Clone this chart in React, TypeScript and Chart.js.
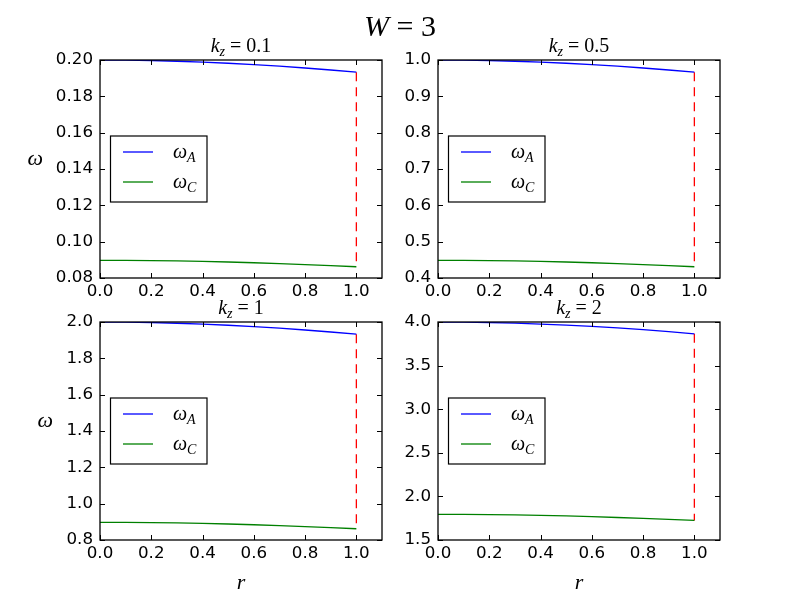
import { useEffect, useRef } from 'react';
import { Chart, registerables } from 'chart.js';

Chart.register(...registerables);

// radial coordinate
const rValues = [0, 0.1, 0.2, 0.3, 0.4, 0.5, 0.6, 0.7, 0.8, 0.9, 1.0];
const xTicks = [0, 0.2, 0.4, 0.6, 0.8, 1.0];

// k_z = 0.1
const omegaA_k01 = [0.2, 0.1999, 0.1997, 0.1993, 0.1988, 0.1982, 0.1975, 0.1966, 0.1956, 0.1945, 0.1933];
const omegaC_k01 = [0.0897, 0.0897, 0.0896, 0.0894, 0.0891, 0.0888, 0.0884, 0.0879, 0.0874, 0.0868, 0.0862];
const yTicks_k01 = [0.08, 0.1, 0.12, 0.14, 0.16, 0.18, 0.2];

// k_z = 0.5
const omegaA_k05 = [1.0, 0.9995, 0.9985, 0.9965, 0.994, 0.991, 0.9875, 0.983, 0.978, 0.9725, 0.9665];
const omegaC_k05 = [0.4485, 0.4485, 0.448, 0.447, 0.4455, 0.444, 0.442, 0.4395, 0.437, 0.434, 0.431];
const yTicks_k05 = [0.4, 0.5, 0.6, 0.7, 0.8, 0.9, 1.0];

// k_z = 1
const omegaA_k1 = [2.0, 1.999, 1.997, 1.993, 1.988, 1.982, 1.975, 1.966, 1.956, 1.945, 1.933];
const omegaC_k1 = [0.897, 0.897, 0.896, 0.894, 0.891, 0.888, 0.884, 0.879, 0.874, 0.868, 0.862];
const yTicks_k1 = [0.8, 1.0, 1.2, 1.4, 1.6, 1.8, 2.0];

// k_z = 2
const omegaA_k2 = [4.0, 3.998, 3.994, 3.986, 3.976, 3.964, 3.95, 3.932, 3.912, 3.89, 3.864];
const omegaC_k2 = [1.794, 1.794, 1.792, 1.788, 1.782, 1.776, 1.768, 1.758, 1.748, 1.736, 1.724];
const yTicks_k2 = [1.5, 2.0, 2.5, 3.0, 3.5, 4.0];

const kzLabels = ['0.1', '0.5', '1', '2'];

const MATH = '"Liberation Serif", "DejaVu Serif", serif';
const TICK_FONT = { family: '"DejaVu Sans", sans-serif', size: 16.7 };

type Seg = { t: string; it?: boolean; sub?: boolean };

function drawMath(ctx: CanvasRenderingContext2D, segs: Seg[], x: number, y: number, size: number, align: 'left' | 'center') {
  const font = (s: Seg) => `${s.it ? 'italic ' : ''}${s.sub ? size * 0.7 : size}px ${MATH}`;
  let w = 0;
  for (const s of segs) {
    ctx.font = font(s);
    w += ctx.measureText(s.t).width;
  }
  let cx = align === 'center' ? x - w / 2 : x;
  ctx.fillStyle = '#000';
  ctx.textAlign = 'left';
  ctx.textBaseline = 'alphabetic';
  for (const s of segs) {
    ctx.font = font(s);
    ctx.fillText(s.t, cx, s.sub ? y + size * 0.22 : y);
    cx += ctx.measureText(s.t).width;
  }
}

interface PanelCfg {
  kz: string;
  a: number[];
  c: number[];
  yTicks: number[];
  dec: number;
  area: { left: number; top: number; right: number; bottom: number };
  yLabelRight?: number;
  xLabel?: boolean;
  suptitle?: boolean;
}

const panels: PanelCfg[] = [
  { kz: kzLabels[0], a: omegaA_k01, c: omegaC_k01, yTicks: yTicks_k01, dec: 2, area: { left: 100, top: 60, right: 382, bottom: 278 }, yLabelRight: 43, suptitle: true },
  { kz: kzLabels[1], a: omegaA_k05, c: omegaC_k05, yTicks: yTicks_k05, dec: 1, area: { left: 438, top: 60, right: 720, bottom: 278 } },
  { kz: kzLabels[2], a: omegaA_k1, c: omegaC_k1, yTicks: yTicks_k1, dec: 1, area: { left: 100, top: 322, right: 382, bottom: 540 }, yLabelRight: 53, xLabel: true },
  { kz: kzLabels[3], a: omegaA_k2, c: omegaC_k2, yTicks: yTicks_k2, dec: 1, area: { left: 438, top: 322, right: 720, bottom: 540 }, xLabel: true },
];

const Y_AXIS_W = 60;
const X_AXIS_H = 22;

function Panel({ cfg }: { cfg: PanelCfg }) {
  const canvasRef = useRef<HTMLCanvasElement>(null);
  const chartRef = useRef<Chart | null>(null);

  useEffect(() => {
    const ctx = canvasRef.current!.getContext('2d')!;
    if (chartRef.current) chartRef.current.destroy();
    const last = rValues.length - 1;

    const decor = {
      id: 'decor',
      afterDraw(chart: Chart) {
        const g = chart.ctx;
        const ar = chart.chartArea;
        const xs = chart.scales.x;
        const ys = chart.scales.y;
        g.save();
        g.strokeStyle = '#000';
        g.lineWidth = 1;
        // inward ticks on all four sides
        g.beginPath();
        for (const v of xTicks) {
          const px = Math.round(xs.getPixelForValue(v)) + 0.5;
          g.moveTo(px, ar.bottom);
          g.lineTo(px, ar.bottom - 5);
          g.moveTo(px, ar.top);
          g.lineTo(px, ar.top + 5);
        }
        for (const v of cfg.yTicks) {
          const py = Math.round(ys.getPixelForValue(v)) + 0.5;
          g.moveTo(ar.left, py);
          g.lineTo(ar.left + 5, py);
          g.moveTo(ar.right, py);
          g.lineTo(ar.right - 5, py);
        }
        g.stroke();
        g.lineWidth = 1.3;
        g.strokeRect(ar.left, ar.top, ar.right - ar.left, ar.bottom - ar.top);

        // legend (center left)
        const cy = (ar.top + ar.bottom) / 2;
        const bx = ar.left + 10.5;
        g.fillStyle = '#fff';
        g.fillRect(bx, cy - 33, 96.5, 66);
        g.lineWidth = 1.2;
        g.strokeRect(bx, cy - 33, 96.5, 66);
        const items = chart.data.datasets.slice(0, 2);
        items.forEach((ds, i) => {
          const ly = cy - 17 + i * 30;
          g.strokeStyle = ds.borderColor as string;
          g.lineWidth = 1.3;
          g.beginPath();
          g.moveTo(ar.left + 23, ly);
          g.lineTo(ar.left + 53, ly);
          g.stroke();
          drawMath(g, [{ t: 'ω', it: true }, { t: i === 0 ? 'A' : 'C', it: true, sub: true }], ar.left + 73, ly + 6, 20, 'left');
        });

        // subplot title
        drawMath(g, [{ t: 'k', it: true }, { t: 'z', it: true, sub: true }, { t: ' = ' + cfg.kz }], (ar.left + ar.right) / 2, ar.top - 8, 20, 'center');

        // axis labels
        if (cfg.yLabelRight !== undefined) {
          g.font = `italic 22px ${MATH}`;
          const w = g.measureText('ω').width;
          drawMath(g, [{ t: 'ω', it: true }], cfg.yLabelRight - w, cy - 4, 22, 'left');
        }
        if (cfg.xLabel) {
          drawMath(g, [{ t: 'r', it: true }], (ar.left + ar.right) / 2, ar.bottom + 49, 22, 'center');
        }
        if (cfg.suptitle) {
          drawMath(g, [{ t: 'W', it: true }, { t: ' = 3' }], 400, 36, 30, 'center');
        }
        g.restore();
      },
    };

    chartRef.current = new Chart(ctx, {
      type: 'line',
      data: {
        datasets: [
          {
            label: 'ω_A',
            data: rValues.map((r, i) => ({ x: r, y: cfg.a[i] })),
            borderColor: '#0000ff',
            borderWidth: 1.3,
            pointRadius: 0,
            tension: 0,
          },
          {
            label: 'ω_C',
            data: rValues.map((r, i) => ({ x: r, y: cfg.c[i] })),
            borderColor: '#008000',
            borderWidth: 1.3,
            pointRadius: 0,
            tension: 0,
          },
          {
            label: 'boundary',
            data: [
              { x: rValues[last], y: cfg.a[last] },
              { x: rValues[last], y: cfg.c[last] },
            ],
            borderColor: '#ff0000',
            borderWidth: 1.3,
            borderDash: [9, 6],
            pointRadius: 0,
          },
        ],
      },
      options: {
        responsive: false,
        animation: false,
        events: [],
        layout: {
          autoPadding: false,
          padding: {
            left: cfg.area.left - Y_AXIS_W,
            top: cfg.area.top,
            right: 800 - cfg.area.right,
            bottom: 600 - cfg.area.bottom - X_AXIS_H,
          },
        },
        plugins: {
          legend: { display: false },
          title: { display: false },
          tooltip: { enabled: false },
        },
        scales: {
          x: {
            type: 'linear',
            min: 0,
            max: 1.1,
            afterBuildTicks: (axis: any) => {
              axis.ticks = xTicks.map((v) => ({ value: v }));
            },
            afterFit: (s: any) => {
              s.height = X_AXIS_H;
            },
            grid: { display: false, drawTicks: false },
            border: { display: false },
            ticks: {
              color: '#000',
              font: TICK_FONT,
              padding: 4,
              maxRotation: 0,
              autoSkip: false,
              callback: (v: any) => Number(v).toFixed(1),
            },
          },
          y: {
            type: 'linear',
            min: cfg.yTicks[0],
            max: cfg.yTicks[cfg.yTicks.length - 1],
            afterBuildTicks: (axis: any) => {
              axis.ticks = cfg.yTicks.map((v) => ({ value: v }));
            },
            afterFit: (s: any) => {
              s.width = Y_AXIS_W;
            },
            grid: { display: false, drawTicks: false },
            border: { display: false },
            ticks: {
              color: '#000',
              font: TICK_FONT,
              padding: 7,
              autoSkip: false,
              callback: (v: any) => Number(v).toFixed(cfg.dec),
            },
          },
        },
      },
      plugins: [decor],
    });

    return () => {
      if (chartRef.current) {
        chartRef.current.destroy();
        chartRef.current = null;
      }
    };
  }, [cfg]);

  return (
    <canvas
      ref={canvasRef}
      width={800}
      height={600}
      style={{ position: 'absolute', left: 0, top: 0, width: 800, height: 600 }}
    />
  );
}

export default function App() {
  return (
    <div style={{ position: 'absolute', left: 0, top: 0, width: 800, height: 600, background: '#fff' }}>
      {panels.map((p) => (
        <Panel key={p.kz} cfg={p} />
      ))}
    </div>
  );
}
